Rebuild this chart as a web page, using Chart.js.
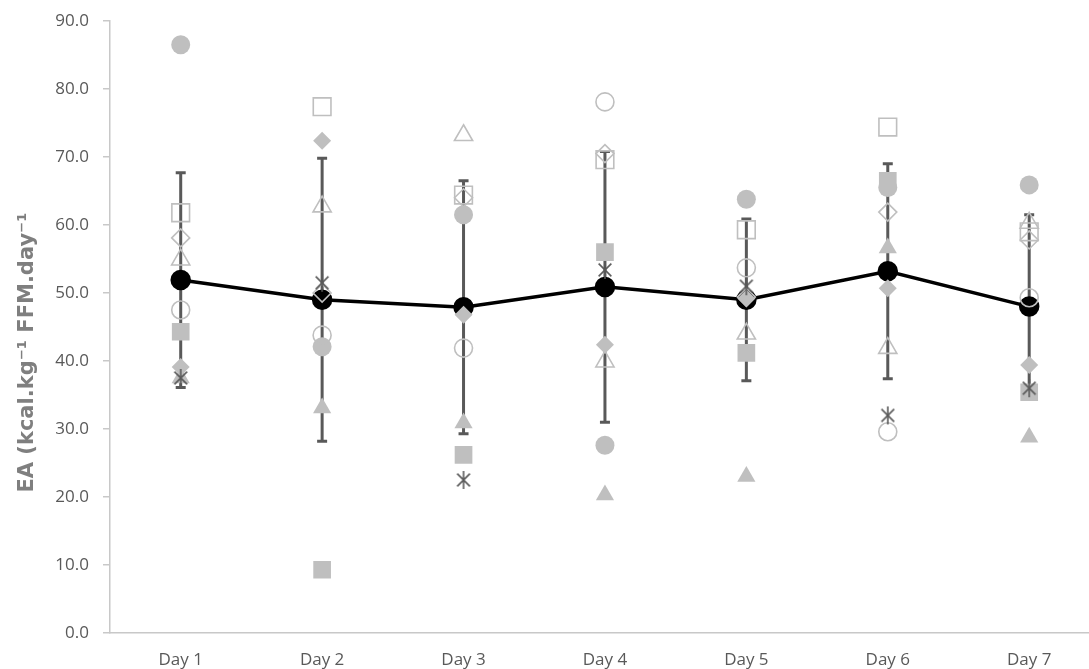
<!DOCTYPE html>
<html>
<head>
<meta charset="utf-8">
<script src="https://cdn.jsdelivr.net/npm/chart.js@4"></script>
<style>
  html, body { margin: 0; padding: 0; background: #fff; overflow: hidden; }
  #wrap { width: 1114px; height: 669px; }
</style>
</head>
<body>
<div id="wrap"><canvas id="ea-chart" width="1114" height="669"></canvas></div>
<script>
var days = ["Day 1", "Day 2", "Day 3", "Day 4", "Day 5", "Day 6", "Day 7"];
var yTicks = [0, 10, 20, 30, 40, 50, 60, 70, 80, 90];

// group mean and SD
var meanEA = [51.9, 49.0, 47.9, 50.9, 49.0, 53.2, 48.0];
var sdEA = [15.8, 20.8, 18.6, 19.9, 11.9, 15.8, 13.5];

// individual athletes
var filledCircle = [86.5, 42.1, 61.5, 27.6, 63.8, 65.5, 65.9];
var openSquare = [61.8, 77.4, 64.4, 69.6, 59.3, 74.4, 59.0];
var openDiamond = [58.1, 50.0, 64.0, 70.5, 49.4, 61.9, 57.8];
var openTriangle = [54.9, 62.7, 73.2, 39.9, 44.0, 41.9, 60.3];
var openCircle = [47.5, 43.8, 41.9, 78.1, 53.7, 29.6, 49.3];
var filledSquare = [44.3, 9.3, 26.2, 56.0, 41.2, 66.5, 35.4];
var filledDiamond = [39.1, 72.4, 46.8, 42.4, 49.2, 50.7, 39.4];
var asterisk = [37.5, 51.5, 22.5, 53.4, 51.0, 32.0, 36.0];
var filledTriangle = [37.5, 33.1, 30.9, 20.3, 23.0, 56.6, 28.8];

var LIGHT = '#bfbfbf';
var DARK = '#595959';

function asteriskImg(size, color) {
  var c = document.createElement('canvas');
  c.width = size; c.height = size;
  var g = c.getContext('2d');
  var m = size / 2, r = size / 2 - 1;
  g.strokeStyle = color;
  g.lineWidth = 1.6;
  [90, 45, 135].forEach(function(a){
    var t = a * Math.PI / 180;
    g.beginPath();
    g.moveTo(m - r * Math.cos(t), m - r * Math.sin(t));
    g.lineTo(m + r * Math.cos(t), m + r * Math.sin(t));
    g.stroke();
  });
  return c;
}

function subject(data, style, filled, radius) {
  return {
    data: data,
    showLine: false,
    pointStyle: style,
    pointRadius: radius,
    pointHoverRadius: radius,
    pointBackgroundColor: filled ? LIGHT : 'rgba(0,0,0,0)',
    pointBorderColor: LIGHT,
    pointBorderWidth: filled ? 0 : 1.6
  };
}

// SD whiskers drawn under the points
var errorBars = {
  id: 'errorBars',
  beforeDatasetsDraw: function(chart) {
    var ctx = chart.ctx, x = chart.scales.x, y = chart.scales.y;
    ctx.save();
    ctx.strokeStyle = DARK;
    ctx.lineWidth = 3;
    for (var i = 0; i < meanEA.length; i++) {
      var px = x.getPixelForValue(i);
      var top = y.getPixelForValue(meanEA[i] + sdEA[i]);
      var bot = y.getPixelForValue(meanEA[i] - sdEA[i]);
      ctx.beginPath();
      ctx.moveTo(px, top); ctx.lineTo(px, bot);
      ctx.moveTo(px - 5, top); ctx.lineTo(px + 5, top);
      ctx.moveTo(px - 5, bot); ctx.lineTo(px + 5, bot);
      ctx.stroke();
    }
    ctx.restore();
  }
};

var ctx = document.getElementById('ea-chart').getContext('2d');
var chart = new Chart(ctx, {
  type: 'line',
  data: {
    labels: days,
    datasets: [
      subject(asterisk, asteriskImg(20, DARK), true, 10),
      subject(filledTriangle, 'triangle', true, 10.5),
      subject(filledDiamond, 'rectRot', true, 9),
      subject(filledSquare, 'rect', true, 12.5),
      subject(openCircle, 'circle', false, 9),
      subject(openTriangle, 'triangle', false, 10.5),
      subject(openDiamond, 'rectRot', false, 9),
      subject(openSquare, 'rect', false, 12.5),
      subject(filledCircle, 'circle', true, 9.5),
      {
        data: meanEA,
        borderColor: '#000',
        borderWidth: 3.5,
        pointStyle: 'circle',
        pointRadius: 8.5,
        pointBackgroundColor: '#000',
        pointBorderColor: '#000',
        tension: 0
      }
    ]
  },
  options: {
    responsive: false,
    animation: false,
    layout: { padding: { top: 21, right: 1, left: 0, bottom: 0 } },
    plugins: { legend: { display: false }, tooltip: { enabled: false } },
    scales: {
      x: {
        offset: true,
        afterFit: function(s){ s.height = 36; s.paddingLeft = 0; s.paddingRight = 0; },
        grid: { display: false },
        border: { display: true, color: '#c8c8c8', width: 1.5 },
        ticks: { color: DARK, padding: 9, font: { family: 'Open Sans', size: 17 } }
      },
      y: {
        min: 0, max: 90,
        afterBuildTicks: function(s){ s.ticks = yTicks.map(function(v){ return { value: v }; }); },
        afterFit: function(s){ s.width = 110; s.paddingTop = 0; s.paddingBottom = 0; },
        grid: { drawOnChartArea: false, drawTicks: true, tickLength: 7, color: '#c8c8c8', lineWidth: 1.5 },
        border: { display: true, color: '#c8c8c8', width: 1.5 },
        ticks: {
          color: DARK, padding: 14,
          font: { family: 'Open Sans', size: 17 },
          callback: function(v){ return Number(v).toFixed(1); }
        },
        title: {
          display: true,
          text: 'EA (kcal.kg\u207B\u00B9 FFM.day\u207B\u00B9       ',
          color: '#7f7f7f',
          padding: { top: 15, bottom: 0 },
          font: { family: 'DejaVu Sans', size: 21, weight: 'bold' }
        }
      }
    }
  },
  plugins: [errorBars]
});
</script>
</body>
</html>
